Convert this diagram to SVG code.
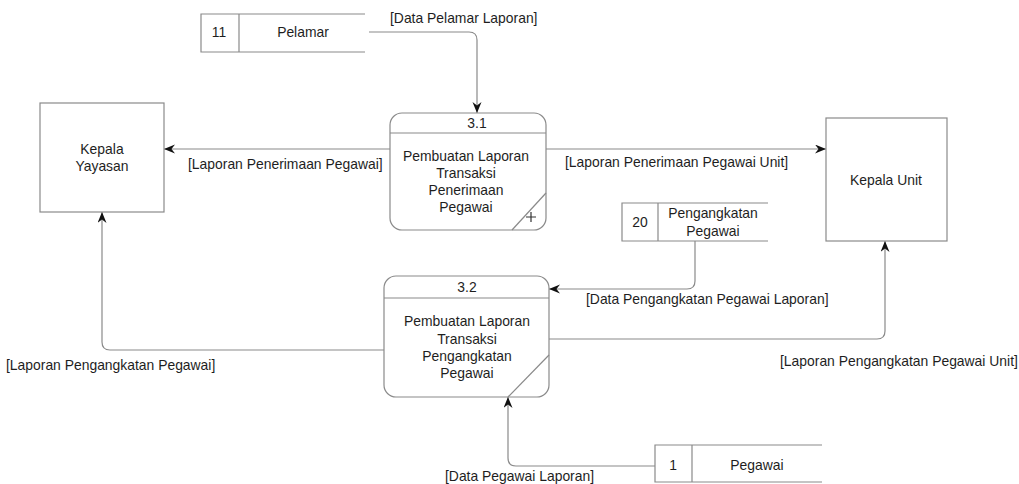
<svg xmlns="http://www.w3.org/2000/svg" width="1019" height="484" viewBox="0 0 1019 484">
  <style>
    .box { fill: #ffffff; stroke: #8a8a8a; stroke-width: 1.2; }
    .ln { fill: none; stroke: #8a8a8a; stroke-width: 1.2; }
    .mark { fill: none; stroke: #333333; stroke-width: 1.2; }
    .flow { fill: none; stroke: #8a8a8a; stroke-width: 1.2; marker-end: url(#arrow); }
    text { font-family: "Liberation Sans", Arial, sans-serif; font-size: 13.9px; fill: #1e1e1e; }
    .c { text-anchor: middle; }
  </style>
  <defs>
    <marker id="arrow" markerWidth="12" markerHeight="10" refX="11" refY="4.5" orient="auto" markerUnits="userSpaceOnUse">
      <path d="M0,0 L11,4.5 L0,9 L3.5,4.5 z" fill="#111"/>
    </marker>
  </defs>
  <rect width="1019" height="484" fill="#ffffff"/>

  <!-- Connectors -->
  <g id="connectors">
    <path class="flow" d="M369,32 H469 Q477,32 477,40 V113"/>
    <path class="flow" d="M390,149 H164"/>
    <path class="flow" d="M546,149 H826"/>
    <path class="flow" d="M695,241 V281 Q695,289 687,289 H549"/>
    <path class="flow" d="M384,350 H110 Q102,350 102,342 V212"/>
    <path class="flow" d="M549,339 H877 Q885,339 885,331 V241"/>
    <path class="flow" d="M655,466 H516 Q508,466 508,458 V397"/>
    <text x="390" y="23">[Data Pelamar Laporan]</text>
    <text x="188" y="169">[Laporan Penerimaan Pegawai]</text>
    <text x="565" y="167">[Laporan Penerimaan Pegawai Unit]</text>
    <text x="586" y="304">[Data Pengangkatan Pegawai Laporan]</text>
    <text x="6" y="370">[Laporan Pengangkatan Pegawai]</text>
    <text x="780" y="366">[Laporan Pengangkatan Pegawai Unit]</text>
    <text x="445" y="481">[Data Pegawai Laporan]</text>
  </g>

  <!-- External entities -->
  <g id="kepala-yayasan">
    <rect class="box" x="40" y="103" width="124" height="109"/>
    <text class="c" x="102" y="154">Kepala</text>
    <text class="c" x="102" y="171">Yayasan</text>
  </g>
  <g id="kepala-unit">
    <rect class="box" x="826" y="118" width="121" height="123"/>
    <text class="c" x="886" y="185">Kepala Unit</text>
  </g>

  <!-- Processes -->
  <g id="proses-3-1">
    <rect class="box" x="390" y="113" width="156" height="117" rx="12"/>
    <line class="ln" x1="390" y1="133" x2="546" y2="133"/>
    <line class="ln" x1="512" y1="230" x2="546" y2="193"/>
    <text class="c" x="477" y="128">3.1</text>
    <text class="c" x="466" y="161">Pembuatan Laporan</text>
    <text class="c" x="466" y="178">Transaksi</text>
    <text class="c" x="466" y="195">Penerimaan</text>
    <text class="c" x="466" y="212">Pegawai</text>
    <path class="mark" d="M526,217 H536 M531,212 V222"/>
  </g>
  <g id="proses-3-2">
    <rect class="box" x="384" y="276" width="165" height="121" rx="12"/>
    <line class="ln" x1="384" y1="298" x2="549" y2="298"/>
    <line class="ln" x1="508" y1="397" x2="549" y2="355"/>
    <text class="c" x="467" y="292">3.2</text>
    <text class="c" x="467" y="326">Pembuatan Laporan</text>
    <text class="c" x="467" y="344">Transaksi</text>
    <text class="c" x="467" y="361">Pengangkatan</text>
    <text class="c" x="467" y="378">Pegawai</text>
  </g>

  <!-- Data stores -->
  <g id="store-11-pelamar">
    <path class="ln" d="M365,14 H201 V52 H365 M239,14 V52"/>
    <text class="c" x="219" y="37">11</text>
    <text class="c" x="303" y="37">Pelamar</text>
  </g>
  <g id="store-20-pengangkatan">
    <path class="ln" d="M768,203 H622 V241 H768 M658,203 V241"/>
    <text class="c" x="640" y="227">20</text>
    <text class="c" x="713" y="218">Pengangkatan</text>
    <text class="c" x="713" y="236">Pegawai</text>
  </g>
  <g id="store-1-pegawai">
    <path class="ln" d="M822,445 H655 V482 H822 M692,445 V482"/>
    <text class="c" x="673" y="470">1</text>
    <text class="c" x="757" y="470">Pegawai</text>
  </g>
</svg>
